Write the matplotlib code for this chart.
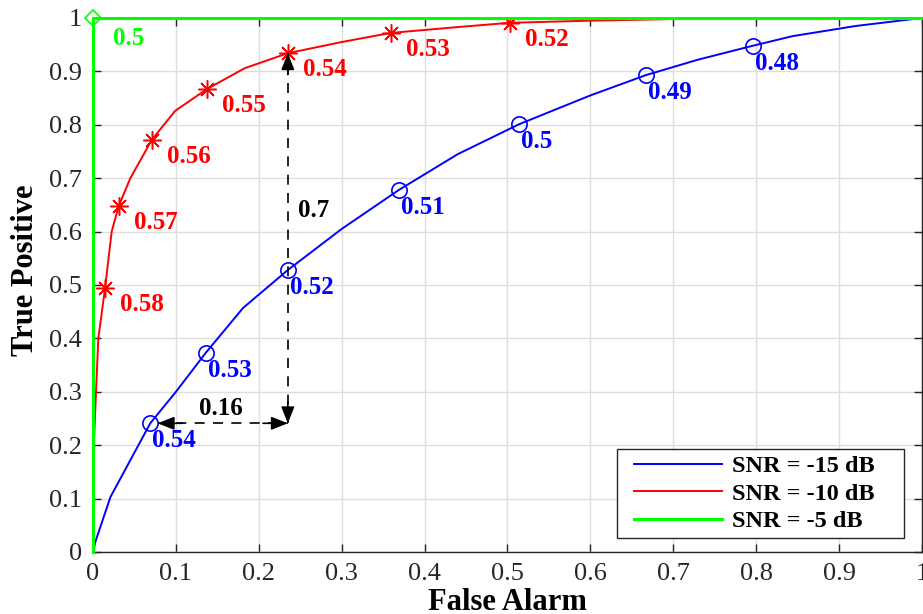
import matplotlib
matplotlib.use('Agg')
import matplotlib.pyplot as plt
import matplotlib.transforms as mtransforms
from matplotlib.legend_handler import HandlerLine2D

plt.rcParams['font.family'] = ['Liberation Serif', 'DejaVu Serif']

# ROC curves
fa_15 = [0, 0.003, 0.021, 0.069, 0.1, 0.136, 0.181, 0.235, 0.3, 0.369, 0.44, 0.514,
         0.6, 0.667, 0.73, 0.796, 0.844, 0.92, 1.0]
tp_15 = [0, 0.02, 0.103, 0.241, 0.3, 0.373, 0.457, 0.528, 0.605, 0.678, 0.745, 0.801,
         0.855, 0.893, 0.922, 0.948, 0.966, 0.985, 1.0]
mark_fa_15 = [0.069, 0.136, 0.235, 0.369, 0.514, 0.667, 0.796]
mark_tp_15 = [0.241, 0.373, 0.528, 0.678, 0.801, 0.893, 0.948]
thr_15 = ['0.54', '0.53', '0.52', '0.51', '0.5', '0.49', '0.48']

fa_10 = [0, 0.001, 0.0036, 0.0064, 0.0145, 0.0225, 0.031, 0.045, 0.071, 0.099, 0.1375,
         0.183, 0.235, 0.3, 0.359, 0.44, 0.503, 0.6, 0.7, 0.8, 1.0]
tp_10 = [0, 0.2, 0.3, 0.4, 0.494, 0.6, 0.648, 0.7, 0.772, 0.826, 0.867,
         0.906, 0.934, 0.955, 0.972, 0.983, 0.991, 0.995, 0.998, 0.999, 1.0]
mark_fa_10 = [0.0145, 0.031, 0.071, 0.1375, 0.235, 0.359, 0.503]
mark_tp_10 = [0.494, 0.648, 0.772, 0.867, 0.934, 0.972, 0.991]
thr_10 = ['0.58', '0.57', '0.56', '0.55', '0.54', '0.53', '0.52']

fa_5 = [0, 0, 1]
tp_5 = [0, 1, 1]
mark_fa_5 = [0]
mark_tp_5 = [1]
thr_5 = ['0.5']

ticks = [0, 0.1, 0.2, 0.3, 0.4, 0.5, 0.6, 0.7, 0.8, 0.9, 1]
tick_labels = ['0', '0.1', '0.2', '0.3', '0.4', '0.5', '0.6', '0.7', '0.8', '0.9', '1']

# gap annotations at the same false alarm / true positive
gap_fa = 0.235
gap_tp = [0.241, 0.934]
gap_fa_h = [0.078, 0.235]
gap_tp_h = 0.241


class InsetLine(HandlerLine2D):
    """legend line pushed right, like matlab's wider left padding"""
    shift = 8

    def create_artists(self, legend, orig_handle, xdescent, ydescent, width, height,
                       fontsize, trans):
        t = mtransforms.Affine2D().translate(self.shift, 0) + trans
        return super().create_artists(legend, orig_handle, xdescent, ydescent,
                                      width - self.shift, height, fontsize, t)


fig = plt.figure(figsize=(9.23, 6.14), dpi=100)
ax = fig.add_axes([0.1008, 0.101, 0.898, 0.8697])

ax.plot(fa_15, tp_15, color='#0000ff', lw=1.4, label='SNR = -15 dB')
ax.plot(fa_10, tp_10, color='#ff0000', lw=1.4, label='SNR = -10 dB')
ax.plot(fa_5, tp_5, color='#00ff00', lw=2.2, label='SNR = -5 dB', clip_on=False, zorder=5)

ax.plot(mark_fa_15, mark_tp_15, ls='none', marker='o', ms=11, mfc='none', mec='#0000ff', mew=1.2)
ax.plot(mark_fa_10, mark_tp_10, ls='none', marker=(8, 2, 0), ms=13, mec='#ff0000', mew=1.1)
ax.plot(mark_fa_5, mark_tp_5, ls='none', marker='D', ms=8, mfc='none', mec='#00ff00', mew=1.2,
        clip_on=False, zorder=6)

lbl = dict(fontsize=18, fontweight='bold', textcoords='offset points', ha='left', va='center')
for x, y, s in zip(mark_fa_15, mark_tp_15, thr_15):
    ax.annotate(s, (x, y), xytext=(1.5, -12.5), color='#0000ff', **lbl)
for x, y, s in zip(mark_fa_10, mark_tp_10, thr_10):
    ax.annotate(s, (x, y), xytext=(11, -12), color='#ff0000', **lbl)
for x, y, s in zip(mark_fa_5, mark_tp_5, thr_5):
    ax.annotate(s, (x, y), xytext=(14.5, -14.5), color='#00ff00', **lbl)

# dashed double arrows
ax.plot([gap_fa, gap_fa], gap_tp, color='k', lw=1.2, ls=(0, (6, 5)))
ax.plot(gap_fa_h, [gap_tp_h, gap_tp_h], color='k', lw=1.2, ls=(0, (6, 5)))
head = dict(arrowstyle='-|>,head_length=1.0,head_width=0.4', color='k', lw=1.2,
            shrinkA=0, shrinkB=0)
ax.annotate('', (gap_fa, gap_tp[1]), xytext=(gap_fa, gap_tp[1] - 0.04), arrowprops=head)
ax.annotate('', (gap_fa, gap_tp[0]), xytext=(gap_fa, gap_tp[0] + 0.04), arrowprops=head)
ax.annotate('', (gap_fa_h[0], gap_tp_h), xytext=(gap_fa_h[0] + 0.03, gap_tp_h), arrowprops=head)
ax.annotate('', (gap_fa_h[1], gap_tp_h), xytext=(gap_fa_h[1] - 0.03, gap_tp_h), arrowprops=head)
ax.text(0.247, 0.64, '0.7', fontsize=18, fontweight='bold', va='center', ha='left')
ax.text(0.154, 0.268, '0.16', fontsize=18, fontweight='bold', va='center', ha='center')

ax.set_xlim(0, 1)
ax.set_ylim(0, 1)
ax.set_xticks(ticks)
ax.set_xticklabels(tick_labels)
ax.set_yticks(ticks)
ax.set_yticklabels(tick_labels)
ax.tick_params(direction='in', length=6, width=1, top=True, right=True,
               labelsize=19, colors='#262626', pad=8)
ax.grid(True, color='#dedede', lw=1)
ax.set_axisbelow(True)
for sp in ax.spines.values():
    sp.set_color('#262626')
    sp.set_linewidth(1)

ax.set_xlabel('False Alarm', fontsize=22, fontweight='bold', labelpad=2)
ax.set_ylabel('True Positive', fontsize=22, fontweight='bold')
ax.yaxis.set_label_coords(-0.064, 0.528)

leg = ax.legend(loc='lower left', bbox_to_anchor=(0.632, 0.026, 0.347, 0.161), mode='expand',
                fancybox=False, edgecolor='#262626', framealpha=1, borderaxespad=0,
                prop={'weight': 'bold', 'size': 17.5}, handlelength=4.08, handletextpad=0.4,
                labelspacing=0.22, borderpad=0.25, handler_map={plt.Line2D: InsetLine()})
leg.get_frame().set_linewidth(1)

fig.savefig('out.png', dpi=100)
